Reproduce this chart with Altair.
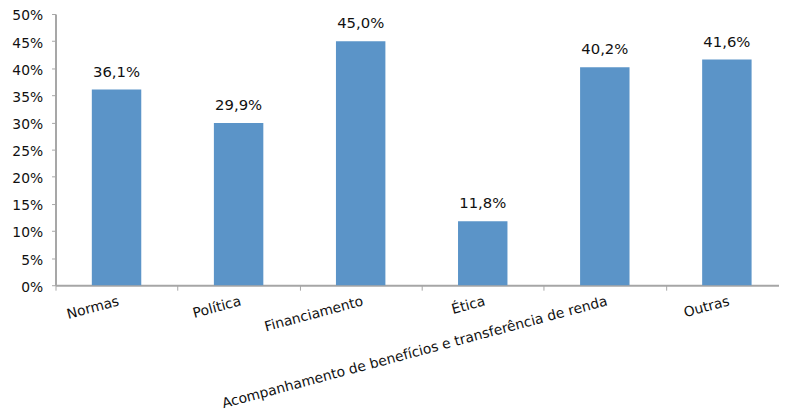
import altair as alt
import pandas as pd

categories = ["Normas", "Política", "Financiamento", "Ética",
              "Acompanhamento de benefícios e transferência de renda", "Outras"]
values = [36.1, 29.9, 45.0, 11.8, 40.2, 41.6]
labels = [f"{v:.1f}".replace(".", ",") + "%" for v in values]

df = pd.DataFrame({"cat": categories, "val": values, "label": labels})

FONT = "DejaVu Sans"
AXIS_COLOR = "#A6A6A6"
TEXT_COLOR = "#111111"

x = alt.X("cat:N", sort=categories, title=None,
          scale=alt.Scale(paddingInner=0, paddingOuter=0, range=[0, 740]),
          axis=alt.Axis(labelAngle=345, labelAlign="right", labelBaseline="top",
                        tickBand="extent", tickSize=5, tickColor=AXIS_COLOR,
                        domainColor=AXIS_COLOR, domainWidth=2, labelPadding=4,
                        labelFont=FONT, labelFontSize=14, labelColor=TEXT_COLOR,
                        labelLimit=600, labelOverlap=False, grid=False))
y = alt.Y("val:Q", title=None,
          scale=alt.Scale(domain=[0, 50], nice=False),
          axis=alt.Axis(values=list(range(0, 55, 5)), labelExpr="datum.value + '%'",
                        tickSize=4, tickColor=AXIS_COLOR, domainColor=AXIS_COLOR,
                        domainWidth=2, labelPadding=9, labelOffset=2, labelFont=FONT,
                        labelFontSize=14, labelColor=TEXT_COLOR, labelOverlap=False,
                        grid=False))

bars = alt.Chart(df).mark_bar(color="#5B94C8", width=alt.RelativeBandSize(0.405)).encode(x=x, y=y)
text = alt.Chart(df).mark_text(dy=-10, baseline="bottom", font=FONT, fontSize=15,
                               color=TEXT_COLOR).encode(x=x, y=y, text="label:N")

chart = (bars + text).properties(
    width=731, height=274,
    autosize=alt.AutoSizeParams(type="none"),
    padding={"left": 48, "top": 4, "right": 0, "bottom": 126},
).configure_view(stroke=None)

chart.save("out.html", embed_options={"renderer": "svg", "actions": False})
